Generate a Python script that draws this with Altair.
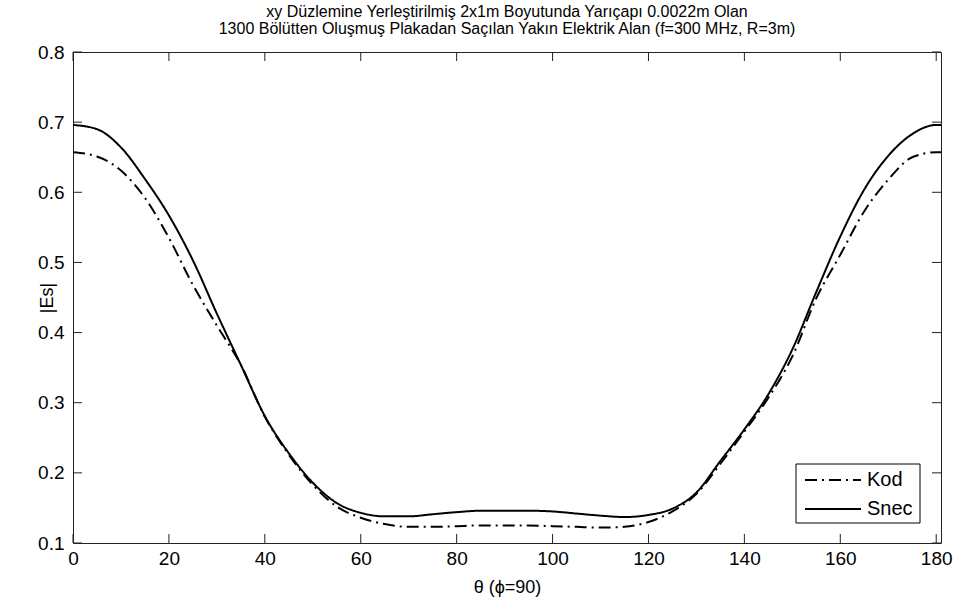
import altair as alt
import pandas as pd

theta = [0, 5, 10, 15, 20, 25, 30, 35, 40, 45, 50, 55, 60, 65, 70, 75, 80, 85, 90,
         95, 100, 105, 110, 115, 120, 125, 130, 135, 140, 145, 150, 155, 160, 165,
         170, 175, 180, 181]
kod = [0.657, 0.651, 0.631, 0.592, 0.535, 0.468, 0.410, 0.354, 0.280, 0.226, 0.183,
       0.152, 0.136, 0.127, 0.123, 0.123, 0.124, 0.125, 0.125, 0.125, 0.124, 0.123,
       0.122, 0.123, 0.130, 0.145, 0.170, 0.213, 0.259, 0.307, 0.366, 0.449, 0.511,
       0.573, 0.618, 0.650, 0.657, 0.657]
snec = [0.696, 0.690, 0.664, 0.619, 0.567, 0.503, 0.427, 0.354, 0.281, 0.228, 0.186,
        0.157, 0.143, 0.138, 0.138, 0.141, 0.144, 0.146, 0.146, 0.146, 0.145, 0.142,
        0.139, 0.137, 0.140, 0.149, 0.172, 0.217, 0.262, 0.312, 0.376, 0.458, 0.537,
        0.604, 0.652, 0.683, 0.696, 0.696]
series_names = ["Kod", "Snec"]
x_ticks = [0, 20, 40, 60, 80, 100, 120, 140, 160, 180]
y_ticks = [0.1, 0.2, 0.3, 0.4, 0.5, 0.6, 0.7, 0.8]
title_lines = ["xy Düzlemine Yerleştirilmiş 2x1m Boyutunda Yarıçapı 0.0022m Olan",
               "1300 Bölütten Oluşmuş Plakadan Saçılan Yakın Elektrik Alan (f=300 MHz, R=3m)"]

rows = []
for name, vals in zip(series_names, [kod, snec]):
    for t, v in zip(theta, vals):
        rows.append({"theta": t, "Es": v, "series": name})
df = pd.DataFrame(rows)
xt_df = pd.DataFrame({"theta": x_ticks})
yt_df = pd.DataFrame({"Es": y_ticks})
leg_df = pd.DataFrame({"series": series_names})
box_df = pd.DataFrame({"box": ["legend"]})

FONT = "Liberation Sans"
W, H = 868, 491
TICK = 9
DASHES = [[12, 5, 2, 5], [1, 0]]

xscale = alt.Scale(domain=[0, 181], nice=False, zero=False)
yscale = alt.Scale(domain=[0.1, 0.8], nice=False, zero=False)
dash_scale = alt.Scale(domain=series_names, range=DASHES)

x_axis = alt.Axis(values=x_ticks, orient="bottom", ticks=False, domain=False,
                  grid=False, labelFlush=False, labelPadding=6, labelFontSize=19,
                  labelFont=FONT, labelColor="black",
                  title="θ (ϕ=90)", titleFont=FONT, titleFontSize=18,
                  titleFontWeight="normal", titleColor="black",
                  titleBaseline="middle", titleY=44)
y_axis = alt.Axis(values=y_ticks, format=".1f", orient="left", ticks=False,
                  domain=False, grid=False, labelFlush=False, labelPadding=9,
                  labelFontSize=19, labelFont=FONT, labelColor="black",
                  title="|Es|", titleFont=FONT, titleFontSize=18,
                  titleFontWeight="normal", titleColor="black",
                  titleAngle=-90, titleBaseline="middle", titleX=-26, titleY=H / 2,
                  titleAlign="center")

X = alt.X("theta:Q", scale=xscale, axis=x_axis)
Y = alt.Y("Es:Q", scale=yscale, axis=y_axis)

lines = alt.Chart(df).mark_line(color="black", strokeWidth=2, interpolate="monotone",
                                clip=True).encode(
    x=X, y=Y,
    strokeDash=alt.StrokeDash("series:N", scale=dash_scale, legend=None),
)

tick_color = "#222"
xt_bottom = alt.Chart(xt_df).mark_rule(color=tick_color, strokeWidth=1).encode(
    x=X, y=alt.value(H), y2=alt.value(H - TICK))
xt_top = alt.Chart(xt_df).mark_rule(color=tick_color, strokeWidth=1).encode(
    x=X, y=alt.value(0), y2=alt.value(TICK))
yt_left = alt.Chart(yt_df).mark_rule(color=tick_color, strokeWidth=1).encode(
    y=Y, x=alt.value(0), x2=alt.value(TICK))
yt_right = alt.Chart(yt_df).mark_rule(color=tick_color, strokeWidth=1).encode(
    y=Y, x=alt.value(W), x2=alt.value(W - TICK))

# legend (drawn in the plot's pixel space, lower right corner)
LX0, LX1, LY0, LY1 = 723, 847, 412, 471
ROW_Y = {"Kod": 428, "Snec": 457}
leg_box = alt.Chart(box_df).mark_rect(fill="white", stroke="black", strokeWidth=1).encode(
    x=alt.value(LX0), x2=alt.value(LX1), y=alt.value(LY0), y2=alt.value(LY1))
leg_layers = [leg_box]
for name in series_names:
    sub = alt.Chart(leg_df).transform_filter(alt.datum.series == name)
    leg_layers.append(sub.mark_rule(color="black", strokeWidth=2).encode(
        x=alt.value(LX0 + 9), x2=alt.value(LX0 + 65), y=alt.value(ROW_Y[name]),
        strokeDash=alt.StrokeDash("series:N", scale=dash_scale, legend=None)))
    leg_layers.append(sub.mark_text(align="left", baseline="middle", font=FONT,
                                    fontSize=20, color="black").encode(
        x=alt.value(LX0 + 71), y=alt.value(ROW_Y[name]), text="series:N"))

chart = alt.layer(lines, xt_bottom, xt_top, yt_left, yt_right, *leg_layers).properties(
    width=W, height=H,
    autosize=alt.AutoSizeParams(type="none"),
    padding={"left": 73, "top": 52, "right": 19, "bottom": 63},
    background="white",
    title=alt.TitleParams(text=title_lines, font=FONT, fontSize=16, fontWeight="normal",
                          color="black", anchor="middle", lineHeight=17, offset=6),
).configure_view(stroke="#222", strokeWidth=1)

chart.save("out.html", embed_options={"renderer": "svg", "actions": False})
